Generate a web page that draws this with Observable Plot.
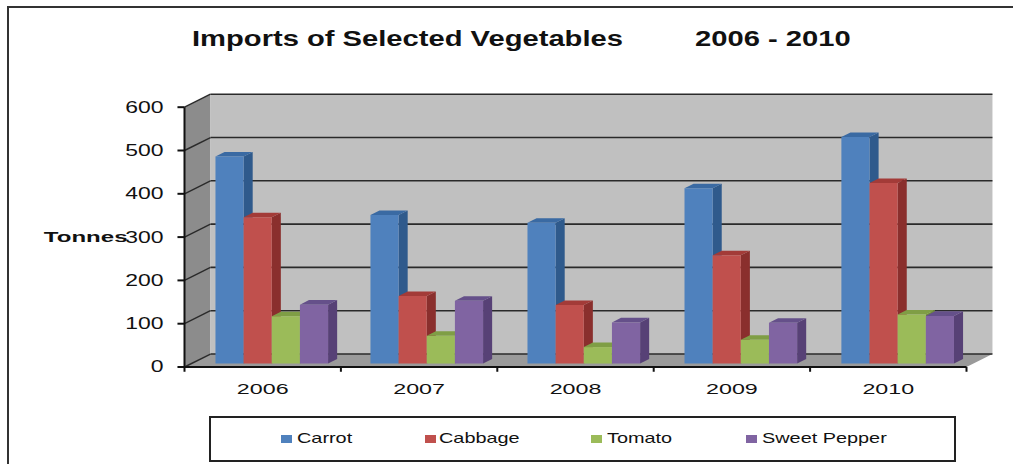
<!DOCTYPE html>
<html>
<head>
<meta charset="utf-8">
<script src="https://cdn.jsdelivr.net/npm/d3@7"></script>
<script src="https://cdn.jsdelivr.net/npm/@observablehq/plot@0.6"></script>
<style>
html,body{margin:0;padding:0;background:#fff;overflow:hidden}
#wrap{position:relative;width:1013px;height:464px;font-family:"Liberation Sans",Arial,sans-serif;color:#111}
#frame{position:absolute;left:7px;top:6px;width:1010px;height:470px;border:2px solid #333;box-sizing:border-box}
.title{position:absolute;top:26px;font-size:22px;font-weight:bold;white-space:pre;line-height:26px;transform-origin:0 0;transform:scaleX(1.325)}
#legend{position:absolute;left:209px;top:416px;width:747px;height:46px;border:2px solid #222;box-sizing:border-box;background:#fff}
.sw{position:absolute;top:17px;width:11px;height:8px}
.lb{position:absolute;top:10px;font-size:14.5px;line-height:20px;white-space:pre;transform-origin:0 0;transform:scaleX(1.37)}
#chart{position:absolute;left:0;top:0}
</style>
</head>
<body>
<div id="wrap">
<div id="frame"></div>
<div id="chart"></div>
<div class="title" style="left:192px">Imports of Selected Vegetables</div>
<div class="title" style="left:695px">2006 - 2010</div>
<div id="legend"></div>
</div>
<script>
const years = ["2006","2007","2008","2009","2010"];
const seriesNames = ["Carrot","Cabbage","Tomato","Sweet Pepper"];
const carrot = [478,343,325,405,523];
const cabbage = [338,156,135,250,417];
const tomato = [109,64,38,55,113];
const sweetPepper = [136,145,95,94,110];
const seriesValues = [carrot,cabbage,tomato,sweetPepper];
const frontColors = ["#4f81bd","#c0504d","#9bbb59","#8064a2"];
const sideColors = ["#2f5a8c","#8a2f2d","#6f8a38","#574176"];
const topColors = ["#3a6aa3","#a33b38","#7f9e45","#65508a"];
const yTicks = [0,100,200,300,400,500,600];

// depth of the 3D box in scale units
const depthX = 0.166, depthY = 30;
const barDepthX = 0.058, barDepthY = 10.5;
const barBase = 8;         // tonnes lift of bar base above the front axis
const barW = 0.18;
const groupStart = [0.198,0.189,0.193,0.197,0.2];

const polys = [];
function poly(key, fill, pts){ pts.forEach(p => polys.push({key, fill, x:p[0], y:p[1]})); }
poly("left","#8c8c8c",[[0,0],[depthX,depthY],[depthX,600+depthY],[0,600]]);
poly("floor","#9a9a9a",[[0,0],[5,0],[5+depthX,depthY],[depthX,depthY]]);
poly("back","#c0c0c0",[[depthX,depthY],[5+depthX,depthY],[5+depthX,600+depthY],[depthX,600+depthY]]);

const gridBack = yTicks.map(v => ({x1:depthX,x2:5+depthX,y:v+depthY}));
const gridSide = yTicks.map(v => ({x1:0,x2:depthX,y1:v,y2:v+depthY}));

const barPolys = [];
function barPoly(key, fill, pts){ pts.forEach(p => barPolys.push({key, fill, x:p[0], y:p[1]})); }
years.forEach((yr,i)=>{
  seriesNames.forEach((s,j)=>{
    const x0 = i + groupStart[i] + j*barW, x1 = x0 + barW;
    const b = barBase, t = seriesValues[j][i] + barBase;
    barPoly(`${yr}-${s}-side`, sideColors[j], [[x1,b],[x1+barDepthX,b+barDepthY],[x1+barDepthX,t+barDepthY],[x1,t]]);
    barPoly(`${yr}-${s}-top`, topColors[j], [[x0,t],[x0+barDepthX,t+barDepthY],[x1+barDepthX,t+barDepthY],[x1,t]]);
    barPoly(`${yr}-${s}-front`, frontColors[j], [[x0,b],[x1,b],[x1,t],[x0,t]]);
  });
});

const xTicks = d3.range(0,6);
const chart = Plot.plot({
  width:1013, height:464,
  margin:0,
  style:{background:"transparent",fontFamily:'"Liberation Sans",Arial,sans-serif',overflow:"visible"},
  x:{type:"linear",domain:[0,5],range:[184,966],axis:null},
  y:{type:"linear",domain:[0,600],range:[366.5,106.7],axis:null},
  marks:[
    Plot.line(polys,{x:"x",y:"y",z:"key",fill:"fill",stroke:"none",curve:"linear-closed"}),
    Plot.link(gridBack,{x1:"x1",x2:"x2",y1:"y",y2:"y",stroke:"#2a2a2a",strokeWidth:1.6}),
    Plot.link(gridSide,{x1:"x1",x2:"x2",y1:"y1",y2:"y2",stroke:"#2a2a2a",strokeWidth:1.4}),
    Plot.line(barPolys,{x:"x",y:"y",z:"key",fill:"fill",stroke:"none",curve:"linear-closed"}),
    Plot.link([0],{x1:0,x2:0,y1:0,y2:600,stroke:"#111",strokeWidth:2}),
    Plot.link([0],{x1:0,x2:5,y1:0,y2:0,stroke:"#111",strokeWidth:2}),
    Plot.link(yTicks,{x1:-0.045,x2:0,y1:d=>d,y2:d=>d,stroke:"#111",strokeWidth:2}),
    Plot.link(xTicks,{x1:d=>d,x2:d=>d,y1:0,y2:-11,stroke:"#111",strokeWidth:2}),
    Plot.text(yTicks,{y:d=>d,x:0,dx:-21,textAnchor:"end",text:d=>String(d),fontSize:17,fill:"#111"}),
    Plot.text(years,{x:(d,i)=>i+0.5,y:0,dy:22,text:d=>d,fontSize:15.5,fill:"#111"}),
    Plot.text(["Tonnes"],{x:0,y:300,dx:-57,textAnchor:"end",text:d=>d,fontSize:15.5,fontWeight:"bold",fill:"#111"}),
  ]
});
document.getElementById("chart").appendChild(chart);
chart.querySelectorAll("text").forEach(t=>{
  const s = t.textContent;
  const k = s==="Tonnes" ? 1.55 : years.includes(s) ? 1.5 : 1.35;
  t.setAttribute("textLength", t.getComputedTextLength()*k);
  t.setAttribute("lengthAdjust","spacingAndGlyphs");
});

const legend = document.getElementById("legend");
const swX = [70,214,380,535];
const lbX = [86,228,396,551];
seriesNames.forEach((s,j)=>{
  const sw = document.createElement("div");
  sw.className="sw"; sw.style.left=swX[j]+"px"; sw.style.background=frontColors[j];
  const lb = document.createElement("div");
  lb.className="lb"; lb.style.left=lbX[j]+"px"; lb.textContent=s;
  legend.append(sw,lb);
});
</script>
</body>
</html>
